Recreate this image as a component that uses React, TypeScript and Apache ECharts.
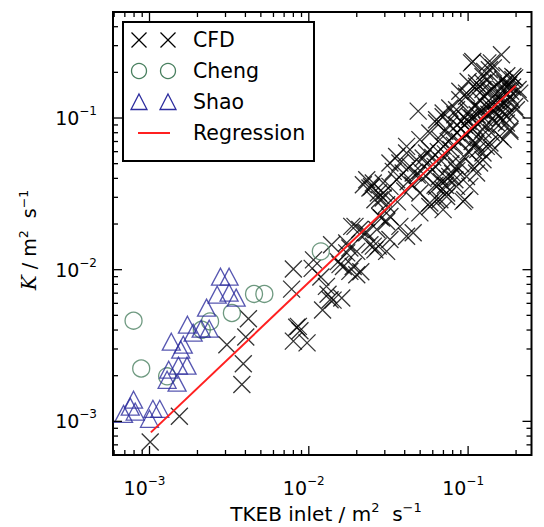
import React, { useEffect, useRef } from 'react';
import * as echarts from 'echarts';

const X_MIN = 5.9e-4;
const X_MAX = 0.25;
const Y_MIN = 6e-4;
const Y_MAX = 0.5;

const xTickMajor = [1e-3, 1e-2, 1e-1];
const xTickMinor = [6e-4, 7e-4, 8e-4, 9e-4, 2e-3, 3e-3, 4e-3, 5e-3, 6e-3, 7e-3, 8e-3, 9e-3, 2e-2, 3e-2, 4e-2, 5e-2, 6e-2, 7e-2, 8e-2, 9e-2, 2e-1];
const yTickMajor = [1e-3, 1e-2, 1e-1];
const yTickMinor = [6e-4, 7e-4, 8e-4, 9e-4, 2e-3, 3e-3, 4e-3, 5e-3, 6e-3, 7e-3, 8e-3, 9e-3, 2e-2, 3e-2, 4e-2, 5e-2, 6e-2, 7e-2, 8e-2, 9e-2, 2e-1, 3e-1, 4e-1];

const cfdPoints: [number, number][] = [
  [0.00101, 0.000731], [0.00154, 0.00108], [0.00306, 0.0032], [0.00418, 0.00475], [0.00402, 0.0036],
  [0.00388, 0.0024], [0.0038, 0.00175], [0.008, 0.0101], [0.0078, 0.00744], [0.0084, 0.00417],
  [0.0088, 0.00396], [0.008, 0.00338], [0.00975, 0.00329], [0.0086, 0.00423], [0.0105, 0.0102],
  [0.0107, 0.0116], [0.0119, 0.00895], [0.0132, 0.00688], [0.0122, 0.00542], [0.0142, 0.0063],
  [0.0161, 0.0065], [0.0129, 0.00776], [0.0136, 0.00634], [0.0139, 0.0146], [0.0157, 0.0108],
  [0.0153, 0.0113], [0.0165, 0.0105], [0.0181, 0.00975], [0.02, 0.00927], [0.019, 0.0105],
  [0.0173, 0.0129], [0.0181, 0.0139], [0.02, 0.0132], [0.0195, 0.0193], [0.0209, 0.0184],
  [0.0225, 0.0175], [0.0242, 0.0146], [0.0273, 0.0143], [0.026, 0.0135], [0.0308, 0.0132],
  [0.0212, 0.0097], [0.0231, 0.0392], [0.0254, 0.0373], [0.026, 0.0289], [0.0273, 0.032],
  [0.0293, 0.0297], [0.0308, 0.0268], [0.0286, 0.0219], [0.0308, 0.0208],
  [0.0248, 0.0352], [0.0411, 0.0588], [0.0373, 0.0505], [0.0339, 0.0445], [0.0293, 0.0373],
  [0.0452, 0.0434], [0.0522, 0.0545], [0.0575, 0.0618], [0.0665, 0.072], [0.0714, 0.0817],
  [0.0767, 0.0904], [0.0697, 0.102], [0.0846, 0.1135], [0.0498, 0.032], [0.0575, 0.0275],
  [0.0634, 0.0354], [0.0767, 0.0412], [0.0846, 0.048], [0.0486, 0.111],
  [0.0323, 0.0505], [0.0356, 0.0557], [0.0411, 0.065], [0.0498, 0.072], [0.0575, 0.0796],
  [0.0634, 0.0927], [0.0887, 0.132], [0.0977, 0.146], [0.113, 0.17], [0.124, 0.188], [0.136, 0.208],
  [0.022, 0.0363], [0.0279, 0.0289], [0.0293, 0.032], [0.0323, 0.0354], [0.0356, 0.0392],
  [0.0391, 0.0434], [0.0431, 0.048], [0.0475, 0.0531], [0.0548, 0.0588],
  [0.0186, 0.0193], [0.0231, 0.0175], [0.0267, 0.0184], [0.0279, 0.0224], [0.0323, 0.0224],
  [0.0373, 0.0193], [0.0498, 0.0237], [0.0575, 0.0261], [0.0634, 0.0289], [0.0733, 0.032],
  [0.0846, 0.0354], [0.0173, 0.015], [0.0254, 0.0143], [0.0323, 0.0158], [0.0452, 0.0175],
  [0.0411, 0.0166], [0.0953, 0.0289], [0.0242, 0.0346],
  [0.105, 0.231], [0.162, 0.261], [0.133, 0.231], [0.144, 0.214], [0.127, 0.203], [0.191, 0.188],
  [0.183, 0.139], [0.201, 0.1135], [0.0887, 0.15], [0.0977, 0.139], [0.113, 0.154], [0.124, 0.17],
  [0.0697, 0.108], [0.0634, 0.0975], [0.0767, 0.1164], [0.0826, 0.105], [0.1025, 0.102],
  [0.118, 0.1135], [0.137, 0.119], [0.158, 0.132], [0.174, 0.102], [0.151, 0.0927],
  [0.124, 0.0838], [0.107, 0.0838], [0.183, 0.0838], [0.166, 0.072], [0.144, 0.0618],
  [0.124, 0.0531], [0.107, 0.048], [0.0977, 0.0412], [0.0733, 0.0304], [0.0697, 0.0249],
  [0.093, 0.0282], [0.107, 0.236], [0.14, 0.231], [0.196, 0.184], [0.206, 0.154], [0.1, 0.174],
  [0.113, 0.162], [0.124, 0.154], [0.133, 0.179], [0.174, 0.146], [0.187, 0.132], [0.196, 0.119],
  [0.183, 0.108], [0.174, 0.0927], [0.183, 0.0817], [0.158, 0.0757], [0.137, 0.0684],
  [0.124, 0.0588], [0.118, 0.0505], [0.113, 0.0434], [0.1025, 0.0354], [0.0826, 0.0392],
  [0.0665, 0.0289], [0.0697, 0.0337], [0.211, 0.146], [0.191, 0.179],
  [0.036, 0.028], [0.04, 0.033], [0.042, 0.038], [0.045, 0.036], [0.048, 0.042], [0.05, 0.045],
  [0.052, 0.04], [0.055, 0.05], [0.058, 0.044], [0.06, 0.055], [0.062, 0.048], [0.065, 0.06],
  [0.068, 0.052], [0.07, 0.065], [0.072, 0.058], [0.075, 0.07], [0.078, 0.062], [0.08, 0.075],
  [0.082, 0.066], [0.085, 0.08], [0.088, 0.07], [0.09, 0.085], [0.092, 0.074], [0.095, 0.09],
  [0.098, 0.078], [0.1, 0.095], [0.103, 0.083], [0.106, 0.1], [0.11, 0.088], [0.114, 0.105],
  [0.118, 0.094], [0.122, 0.112], [0.126, 0.1], [0.13, 0.118], [0.135, 0.106], [0.14, 0.125],
  [0.145, 0.112], [0.15, 0.13], [0.155, 0.118], [0.16, 0.14], [0.168, 0.125], [0.176, 0.16],
  [0.185, 0.15], [0.068, 0.038], [0.072, 0.036], [0.074, 0.04], [0.066, 0.041], [0.062, 0.036],
  [0.108, 0.064], [0.112, 0.068], [0.106, 0.07], [0.115, 0.062], [0.1, 0.06], [0.095, 0.055],
  [0.09, 0.05], [0.085, 0.045], [0.08, 0.043], [0.078, 0.05], [0.15, 0.105], [0.165, 0.11],
  [0.17, 0.125], [0.19, 0.16], [0.16, 0.1], [0.145, 0.095], [0.13, 0.09], [0.14, 0.08],
  [0.12, 0.075], [0.13, 0.065],
  [0.12, 0.13], [0.125, 0.14], [0.135, 0.15], [0.145, 0.16], [0.155, 0.17], [0.165, 0.18],
  [0.175, 0.19], [0.15, 0.145], [0.16, 0.155], [0.17, 0.17], [0.18, 0.165], [0.11, 0.12],
  [0.1, 0.11], [0.095, 0.1], [0.085, 0.09], [0.09, 0.095],
];

const chengPoints: [number, number][] = [
  [0.000794, 0.00461], [0.000887, 0.00223], [0.00129, 0.00198], [0.00213, 0.00402], [0.0024, 0.00456],
  [0.00329, 0.00518], [0.00453, 0.00692], [0.00526, 0.00692], [0.0119, 0.0132],
];

const shaoPoints: [number, number][] = [
  [0.000687, 0.00112], [0.000757, 0.00125], [0.000794, 0.00139], [0.000813, 0.00116], [0.001, 0.00104],
  [0.00105, 0.00121], [0.00116, 0.00121], [0.00129, 0.00188], [0.00149, 0.0018], [0.00132, 0.00219],
  [0.00152, 0.00233], [0.00172, 0.00233], [0.00157, 0.00297], [0.00137, 0.00335], [0.00163, 0.0032],
  [0.00173, 0.00434], [0.00188, 0.00384], [0.00211, 0.00408], [0.00237, 0.00408], [0.00228, 0.00562],
  [0.00266, 0.00684], [0.00279, 0.00899], [0.00316, 0.00899], [0.00316, 0.00705], [0.0035, 0.00654],
];

const regressionX = [0.00102, 0.199];
const regressionY = [0.000846, 0.163];

const legendNames = ['CFD', 'Cheng', 'Shao', 'Regression'];

const C_CFD = '#000000';
const C_CHENG = '#4a8060';
const C_SHAO = '#2d2d9e';
const C_REG = '#ff2020';

const FONT = 'DejaVu Sans';

const richTick = {
  b: { fontSize: 19, fontFamily: FONT, lineHeight: 26, color: '#000' },
  s: { fontSize: 12, fontFamily: FONT, lineHeight: 15, verticalAlign: 'top', color: '#000' },
};

const fmtPow = (v: number) => {
  const l = Math.log10(v);
  const e = Math.round(l);
  if (Math.abs(l - e) > 1e-6) return '';
  return `{b|10}{s|${e < 0 ? '\u2212' : ''}${Math.abs(e)}}`;
};

function tickSeries(axis: 'x' | 'y', values: number[], len: number) {
  return {
    type: 'custom',
    coordinateSystem: 'cartesian2d',
    silent: true,
    clip: false,
    z: 5,
    data: values.map((v) => (axis === 'x' ? [v, Y_MIN] : [X_MIN, v])),
    renderItem: (params: any, api: any) => {
      const cs = params.coordSys;
      const p = api.coord([api.value(0), api.value(1)]);
      const st = { stroke: '#000', lineWidth: 1.3 };
      if (axis === 'x') {
        const x = p[0];
        const b = cs.y + cs.height;
        return {
          type: 'group',
          children: [
            { type: 'line', shape: { x1: x, y1: b, x2: x, y2: b - len }, style: st },
            { type: 'line', shape: { x1: x, y1: cs.y, x2: x, y2: cs.y + len }, style: st },
          ],
        };
      }
      const y = p[1];
      const r = cs.x + cs.width;
      return {
        type: 'group',
        children: [
          { type: 'line', shape: { x1: cs.x, y1: y, x2: cs.x + len, y2: y }, style: st },
          { type: 'line', shape: { x1: r, y1: y, x2: r - len, y2: y }, style: st },
        ],
      };
    },
  };
}

function legendGraphics() {
  const bx = 123, by = 22, bw = 191, bh = 139;
  const rows = [40, 71, 102, 133];
  const mx = [139, 168];
  const els: any[] = [
    { type: 'rect', shape: { x: bx, y: by, width: bw, height: bh }, style: { fill: '#fff', stroke: '#000', lineWidth: 2 }, z: 100 },
  ];
  const h = 7.5;
  mx.forEach((x) => {
    const y0 = rows[0];
    els.push({ type: 'line', shape: { x1: x - h, y1: y0 - h, x2: x + h, y2: y0 + h }, style: { stroke: C_CFD, lineWidth: 1.3 }, z: 101 });
    els.push({ type: 'line', shape: { x1: x - h, y1: y0 + h, x2: x + h, y2: y0 - h }, style: { stroke: C_CFD, lineWidth: 1.3 }, z: 101 });
    els.push({ type: 'circle', shape: { cx: x, cy: rows[1], r: 7.5 }, style: { fill: 'none', stroke: C_CHENG, lineWidth: 1.3 }, z: 101 });
    els.push({
      type: 'polygon',
      shape: { points: [[x, rows[2] - 8], [x + 8, rows[2] + 7.5], [x - 8, rows[2] + 7.5]] },
      style: { fill: 'none', stroke: C_SHAO, lineWidth: 1.3 },
      z: 101,
    });
  });
  els.push({ type: 'line', shape: { x1: 138, y1: rows[3], x2: 170, y2: rows[3] }, style: { stroke: C_REG, lineWidth: 2 }, z: 101 });
  legendNames.forEach((n, i) => {
    els.push({
      type: 'text',
      x: 193,
      y: rows[i],
      z: 101,
      style: { text: n, fontFamily: FONT, fontSize: 20.5, fill: '#000', align: 'left', verticalAlign: 'middle' },
    });
  });
  return els;
}

const richXTitle = {
  n: { fontSize: 20, fontFamily: FONT, lineHeight: 26, color: '#000' },
  s: { fontSize: 13, fontFamily: FONT, lineHeight: 15, verticalAlign: 'top', color: '#000' },
};
const richYTitle = {
  n: { fontSize: 19, fontFamily: FONT, lineHeight: 25, color: '#000' },
  k: { fontSize: 20, fontFamily: 'DejaVu Serif', fontStyle: 'italic', lineHeight: 25, color: '#000' },
  s: { fontSize: 12.5, fontFamily: FONT, lineHeight: 15, verticalAlign: 'top', color: '#000' },
};

export default function App() {
  const ref = useRef<HTMLDivElement>(null);
  useEffect(() => {
    if (!ref.current) return;
    const chart = echarts.init(ref.current, undefined, { renderer: 'svg' });
    const option: any = {
      animation: false,
      backgroundColor: '#fff',
      grid: {
        left: 113, right: 12.5, top: 12, bottom: 72,
        show: true, borderColor: '#000', borderWidth: 2, backgroundColor: 'transparent',
        containLabel: false, outerBoundsMode: 'none',
      },
      xAxis: {
        type: 'log', logBase: 10, min: X_MIN, max: X_MAX,
        axisLine: { show: false }, axisTick: { show: false }, splitLine: { show: false }, minorTick: { show: false },
        axisLabel: { margin: 20, formatter: fmtPow, rich: richTick, padding: [0, 10, 0, 0] },
      },
      yAxis: {
        type: 'log', logBase: 10, min: Y_MIN, max: Y_MAX,
        axisLine: { show: false }, axisTick: { show: false }, splitLine: { show: false }, minorTick: { show: false },
        axisLabel: { margin: 16, formatter: fmtPow, rich: richTick },
      },
      series: [
        {
          type: 'scatter', name: 'CFD', silent: true,
          data: cfdPoints,
          symbol: 'path://M0,0L20,20M20,0L0,20',
          symbolSize: 17,
          itemStyle: { color: 'rgba(0,0,0,0)', borderColor: C_CFD, borderWidth: 1.3 },
        },
        {
          type: 'scatter', name: 'Cheng', silent: true,
          data: chengPoints,
          symbol: 'circle', symbolSize: 17,
          itemStyle: { color: 'rgba(0,0,0,0)', borderColor: C_CHENG, borderWidth: 1.3 },
        },
        {
          type: 'scatter', name: 'Shao', silent: true,
          data: shaoPoints,
          symbol: 'triangle', symbolSize: [18, 17],
          itemStyle: { color: 'rgba(0,0,0,0)', borderColor: C_SHAO, borderWidth: 1.3 },
        },
        {
          type: 'line', name: 'Regression', silent: true,
          data: regressionX.map((x, i) => [x, regressionY[i]]),
          symbol: 'none', showSymbol: false,
          lineStyle: { color: C_REG, width: 2 },
        },
        tickSeries('x', xTickMajor, 9),
        tickSeries('x', xTickMinor, 5),
        tickSeries('y', yTickMajor, 9),
        tickSeries('y', yTickMinor, 5),
      ],
      graphic: [
        ...legendGraphics(),
        {
          type: 'text', x: 326, y: 514,
          style: { text: '{n|TKEB inlet / m}{s|2}{n|  s}{s|\u22121}', rich: richXTitle, align: 'center', verticalAlign: 'middle' },
        },
        {
          type: 'text', x: 29, y: 240, rotation: Math.PI / 2,
          style: { text: '{k|K}{n| / m}{s|2}{n|  s}{s|\u22121}', rich: richYTitle, align: 'center', verticalAlign: 'middle' },
        },
      ],
    };
    chart.setOption(option);
    return () => chart.dispose();
  }, []);
  return <div ref={ref} style={{ position: 'fixed', left: 0, top: 0, width: 544, height: 527 }} />;
}
